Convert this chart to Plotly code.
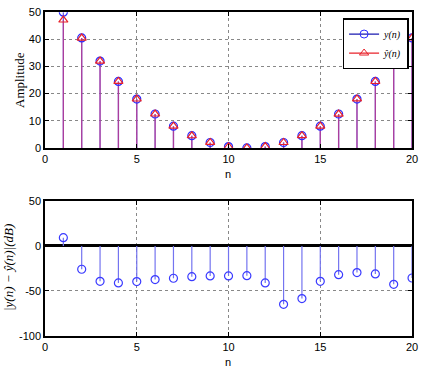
import plotly.graph_objects as go

n = list(range(1, 21))
y_true = [50, 40.5, 32, 24.5, 18, 12.5, 8, 4.5, 2, 0.5, 0, 0.5, 2, 4.5, 8, 12.5, 18, 24.5, 32, 40.5]
y_hat = [47.1, 40.45, 31.99, 24.49, 18.01, 12.49, 8.02, 4.48, 2.02, 0.48, 0.02, 0.51, 2.0, 4.5, 8.01, 12.47, 18.03, 24.47, 32.01, 40.52]
err_db = [9.2, -25.9, -39.3, -41.1, -39.6, -37.4, -35.9, -34.1, -33.3, -33.3, -33.0, -41.1, -64.8, -58.5, -39.3, -31.9, -29.6, -31.1, -42.6, -35.6]

BLUE = "#2b2bff"
RED = "#e8222a"


def stems(xs, ys):
    sx, sy = [], []
    for a, b in zip(xs, ys):
        sx += [a, a, None]
        sy += [0, b, None]
    return sx, sy


fig = go.Figure()

bx, by = stems(n, y_true)
rx, ry = stems(n, y_hat)
fig.add_trace(go.Scatter(x=bx, y=by, mode="lines", line=dict(color="#6a5cf0", width=1.3),
                         showlegend=False, hoverinfo="skip", xaxis="x", yaxis="y"))
fig.add_trace(go.Scatter(x=rx, y=ry, mode="lines", line=dict(color="rgba(200,50,120,0.7)", width=1.3),
                         showlegend=False, hoverinfo="skip", xaxis="x", yaxis="y"))
fig.add_trace(go.Scatter(x=n, y=y_true, mode="markers",
                         marker=dict(symbol="circle-open", size=8, color=BLUE, line=dict(width=1.2)),
                         showlegend=False, xaxis="x", yaxis="y"))
fig.add_trace(go.Scatter(x=n, y=y_hat, mode="markers",
                         marker=dict(symbol="triangle-up-open", size=8, color=RED, line=dict(width=1.2)),
                         showlegend=False, xaxis="x", yaxis="y"))
# legend entries
fig.add_trace(go.Scatter(x=[None], y=[None], mode="lines+markers", name="<i>y(n)</i>",
                         line=dict(color="#1a1ab0", width=1.2),
                         marker=dict(symbol="circle-open", size=8, color=BLUE),
                         xaxis="x", yaxis="y"))
fig.add_trace(go.Scatter(x=[None], y=[None], mode="lines+markers", name="<i>ŷ(n)</i>",
                         line=dict(color=RED, width=1.2),
                         marker=dict(symbol="triangle-up-open", size=8, color=RED),
                         xaxis="x", yaxis="y"))

ex, ey = stems(n, err_db)
fig.add_trace(go.Scatter(x=ex, y=ey, mode="lines", line=dict(color="#7474f0", width=1.2),
                         showlegend=False, hoverinfo="skip", xaxis="x2", yaxis="y2"))
fig.add_trace(go.Scatter(x=n, y=err_db, mode="markers",
                         marker=dict(symbol="circle-open", size=8, color="#3a3aff", line=dict(width=1.2)),
                         showlegend=False, xaxis="x2", yaxis="y2"))

tickfont = dict(family="Liberation Sans, Arial, sans-serif", size=11, color="black")
grid = dict(showgrid=True, gridcolor="#888", griddash="dot", gridwidth=1)
common_x = dict(range=[0, 20], tickvals=[0, 5, 10, 15, 20], ticks="inside", ticklen=4,
                tickcolor="black", showline=True, linecolor="black", linewidth=1.5,
                mirror="ticks", zeroline=False, tickfont=tickfont, domain=[0.1044, 0.956],
                automargin=False, **grid)

fig.update_layout(
    width=431, height=368,
    margin=dict(l=0, r=0, t=0, b=0, pad=0),
    autosize=False,
    paper_bgcolor="white", plot_bgcolor="white",
    xaxis=dict(**common_x, anchor="y"),
    yaxis=dict(range=[0, 50], tickvals=[0, 10, 20, 30, 40, 50], ticks="inside", ticklen=4,
               tickcolor="black", showline=True, linecolor="black", linewidth=1.5,
               mirror="ticks", zeroline=False, tickfont=tickfont, domain=[0.598, 0.967],
               anchor="x", automargin=False, **grid),
    xaxis2=dict(**common_x, anchor="y2"),
    yaxis2=dict(range=[-100, 50], tickvals=[-100, -50, 0, 50], ticktext=["-100", "-50", "0", "50"],
                ticks="inside", ticklen=4,
                tickcolor="black", showline=True, linecolor="black", linewidth=1.5,
                mirror="ticks",
                zeroline=True, zerolinecolor="black", zerolinewidth=2.5,
                tickfont=tickfont, domain=[0.087, 0.454], anchor="x2", automargin=False, **grid),
    showlegend=True,
    legend=dict(x=0.948, y=0.951, xanchor="right", yanchor="top",
                bgcolor="white", bordercolor="black", borderwidth=1.5,
                font=dict(family="Liberation Serif, serif", size=10, color="black"),
                tracegroupgap=0, itemwidth=30),
    annotations=[
        dict(text="n", x=0.53, y=1 - 174 / 368, xref="paper", yref="paper", showarrow=False,
             xanchor="center", yanchor="middle",
             font=dict(family="Liberation Sans, Arial, sans-serif", size=11, color="black")),
        dict(text="n", x=0.53, y=1 - 362 / 368, xref="paper", yref="paper", showarrow=False,
             xanchor="center", yanchor="middle",
             font=dict(family="Liberation Sans, Arial, sans-serif", size=11, color="black")),
        dict(text="Amplitude", x=20 / 431, y=1 - 80 / 368, xref="paper", yref="paper", showarrow=False,
             textangle=-90, xanchor="center", yanchor="middle",
             font=dict(family="Liberation Serif, serif", size=13, color="black")),
        dict(text="<i>|y(n) − ŷ(n)|(dB)</i>", x=8 / 431, y=1 - 268 / 368, xref="paper", yref="paper",
             showarrow=False, textangle=-90, xanchor="center", yanchor="middle",
             font=dict(family="Liberation Serif, serif", size=13, color="black")),
    ],
)

fig.write_html("out.html")
